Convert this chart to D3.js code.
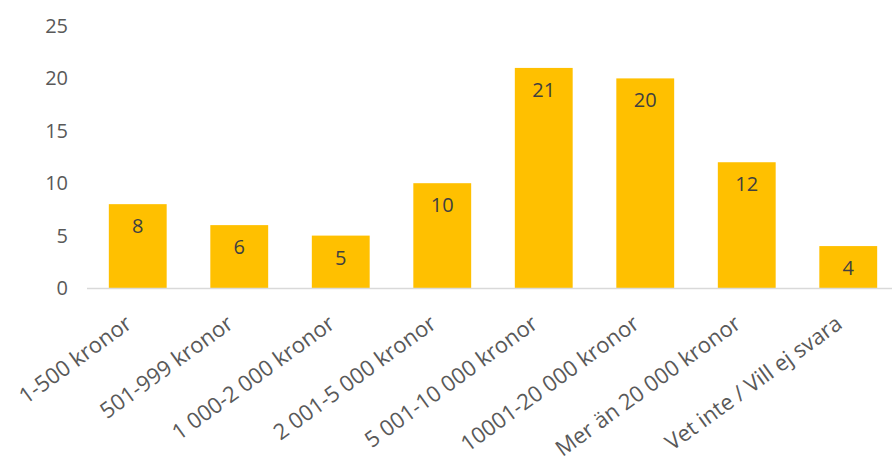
<!DOCTYPE html>
<html>
<head>
<meta charset="utf-8">
<script src="https://cdn.jsdelivr.net/npm/d3@7"></script>
<style>
  html, body { margin: 0; padding: 0; background: #fff; }
  svg { display: block; font-family: "Open Sans", Lato, sans-serif; }
</style>
</head>
<body>
<svg id="chart" width="892" height="473"></svg>
<script>
const categories = [
  "1-500 kronor",
  "501-999 kronor",
  "1 000-2 000 kronor",
  "2 001-5 000 kronor",
  "5 001-10 000 kronor",
  "10001-20 000 kronor",
  "Mer än 20 000 kronor",
  "Vet inte / Vill ej svara"
];
const values = [8, 6, 5, 10, 21, 20, 12, 4];
const yTicks = [0, 5, 10, 15, 20, 25];

const svg = d3.select("#chart");
const W = 892;
const FONT = "'Open Sans', Lato, sans-serif";

const x = d3.scaleBand()
  .domain(categories)
  .range([87, 899])
  .paddingInner(0.43)
  .paddingOuter(0.215);

const y = d3.scaleLinear()
  .domain([0, 25])
  .range([288, 26]);

// y axis labels (no line)
const yAxis = svg.append("g")
  .attr("transform", "translate(68,0)")
  .call(d3.axisLeft(y).tickValues(yTicks).tickSize(0).tickPadding(0));
yAxis.select(".domain").remove();
yAxis.selectAll("text")
  .attr("font-family", FONT)
  .attr("font-size", 20)
  .attr("fill", "#595959");

// bars
svg.append("g").selectAll("rect")
  .data(values)
  .join("rect")
  .attr("x", (d, i) => x(categories[i]))
  .attr("y", d => y(d))
  .attr("width", x.bandwidth())
  .attr("height", d => y(0) - y(d))
  .attr("fill", "#FFC000");

// value labels inside bars
svg.append("g").selectAll("text")
  .data(values)
  .join("text")
  .attr("x", (d, i) => x(categories[i]) + x.bandwidth() / 2)
  .attr("y", d => y(d) + 29)
  .attr("text-anchor", "middle")
  .attr("font-family", FONT)
  .attr("font-size", 20)
  .attr("fill", "#404040")
  .text(d => d);

// x axis with slanted category labels
const xAxis = svg.append("g")
  .attr("transform", `translate(0,${y(0)})`)
  .call(d3.axisBottom(x).tickSize(0).tickPadding(0));
xAxis.select(".domain")
  .attr("d", `M87,0.5H${W}`)
  .attr("stroke", "#d9d9d9")
  .attr("stroke-width", 1.5);
xAxis.selectAll(".tick text")
  .attr("font-family", FONT)
  .attr("font-size", 22)
  .attr("fill", "#595959")
  .attr("text-anchor", "end")
  .attr("y", 0)
  .attr("dy", null)
  .attr("dominant-baseline", "middle")
  .attr("transform", "translate(-8,34) rotate(-36)");
</script>
</body>
</html>
